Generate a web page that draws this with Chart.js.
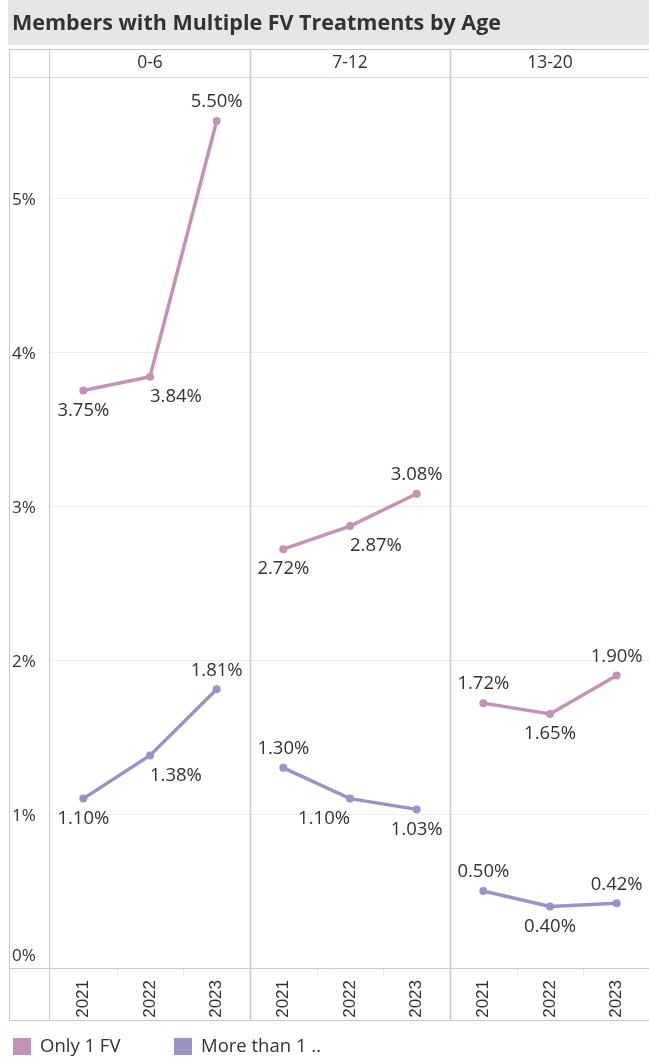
<!DOCTYPE html>
<html>
<head>
<meta charset="utf-8">
<script src="https://cdn.jsdelivr.net/npm/chart.js@4.4.0/dist/chart.umd.min.js"></script>
<style>
  html, body { margin: 0; padding: 0; background: #fff; overflow: hidden; }
  canvas { display: block; }
</style>
</head>
<body>
<canvas id="chart" width="654" height="1057"></canvas>
<script>
const chartTitle = 'Members with Multiple FV Treatments by Age';
const ageGroups = ['0-6', '7-12', '13-20'];
const years = ['2021', '2022', '2023'];
const yTicks = [0, 1, 2, 3, 4, 5];
// percent of members, three years per age group
const onlyOneFv = [3.75, 3.84, 5.50, 2.72, 2.87, 3.08, 1.72, 1.65, 1.90];
const moreThanOne = [1.10, 1.38, 1.81, 1.30, 1.10, 1.03, 0.50, 0.40, 0.42];
// which side of the point each value label goes
const onlyOneSide = ['below', 'below', 'above', 'below', 'below', 'above', 'above', 'below', 'above'];
const moreThanSide = ['below', 'below', 'above', 'above', 'below', 'below', 'above', 'below', 'above'];
// horizontal placement of each value label
const onlyOneAlign = ['center', 'right', 'center', 'center', 'right', 'center', 'center', 'center', 'center'];
const moreThanAlign = ['center', 'right', 'center', 'center', 'left', 'center', 'center', 'center', 'center'];

const PINK = '#c293b5';
const PURPLE = '#9b92c5';
const TEXT = '#333333';
const FRAME = '#c9c9c9';

const labels = [];
ageGroups.forEach(() => years.forEach((y) => labels.push(y)));

// break the line between age groups
const panelSegment = {
  borderColor: (ctx) => (ctx.p0DataIndex % 3 === 2 ? 'rgba(0,0,0,0)' : undefined),
};

const framePlugin = {
  id: 'frame',
  beforeDraw(chart) {
    const { ctx, width, height } = chart;
    ctx.save();
    ctx.fillStyle = '#fff';
    ctx.fillRect(0, 0, width, height);
    // title bar
    ctx.fillStyle = '#e6e6e6';
    ctx.fillRect(8, 0, width - 8, 45);
    ctx.fillStyle = TEXT;
    ctx.font = '700 21.5px "Open Sans"';
    ctx.textBaseline = 'alphabetic';
    ctx.fillText(chartTitle, 12, 30);
    ctx.restore();
  },
  afterDraw(chart) {
    const { ctx, chartArea: area, width } = chart;
    const x = chart.scales.x;
    const y = chart.scales.y;
    const step = (area.right - area.left) / labels.length;
    const top = 49.5, headerBottom = 77.5, plotBottom = Math.round(area.bottom) + 0.5, bottom = 1020.5;
    ctx.save();

    // small boundary stubs in the year band
    ctx.strokeStyle = '#e8e8e8';
    ctx.lineWidth = 1;
    for (let i = 1; i < labels.length; i++) {
      if (i % 3 === 0) continue;
      const bx = Math.round(area.left + i * step) + 0.5;
      ctx.beginPath(); ctx.moveTo(bx, plotBottom); ctx.lineTo(bx, plotBottom + 7); ctx.stroke();
    }

    // horizontal frame lines
    ctx.strokeStyle = FRAME;
    [top, plotBottom, bottom].forEach((ly) => {
      ctx.beginPath(); ctx.moveTo(9, ly); ctx.lineTo(width, ly); ctx.stroke();
    });
    ctx.strokeStyle = '#dadada';
    ctx.beginPath(); ctx.moveTo(9, headerBottom); ctx.lineTo(width, headerBottom); ctx.stroke();

    // vertical frame lines
    ctx.strokeStyle = FRAME;
    [9.5, Math.round(area.left) - 0.5].forEach((vx) => {
      ctx.beginPath(); ctx.moveTo(vx, top); ctx.lineTo(vx, bottom); ctx.stroke();
    });
    ctx.lineWidth = 1.6;
    ctx.strokeStyle = '#cdcdcd';
    for (let p = 1; p < ageGroups.length; p++) {
      const vx = Math.round(area.left + p * 3 * step) + 0.5;
      ctx.beginPath(); ctx.moveTo(vx, top); ctx.lineTo(vx, bottom); ctx.stroke();
    }

    // age group headers
    ctx.fillStyle = TEXT;
    ctx.font = '17.5px "Open Sans"';
    ctx.textAlign = 'center';
    ctx.textBaseline = 'middle';
    ageGroups.forEach((g, p) => {
      const cx = (x.getPixelForValue(p * 3) + x.getPixelForValue(p * 3 + 2)) / 2;
      ctx.fillText(g, cx, 63);
    });

    // y axis labels
    ctx.font = '17px "Open Sans"';
    ctx.textAlign = 'left';
    yTicks.forEach((v) => {
      let ty = y.getPixelForValue(v) + 2;
      if (v === 0) ty -= 14;
      ctx.fillText(v + '%', 12, ty);
    });

    // value labels
    ctx.font = '18.5px "Open Sans"';
    ctx.textAlign = 'center';
    const sides = [onlyOneSide, moreThanSide];
    const aligns = [onlyOneAlign, moreThanAlign];
    chart.data.datasets.forEach((ds, d) => {
      const meta = chart.getDatasetMeta(d);
      meta.data.forEach((pt, i) => {
        const text = ds.data[i].toFixed(2) + '%';
        const w = ctx.measureText(text).width;
        const p = Math.floor(i / 3);
        const left = area.left + p * 3 * step + 1;
        const right = Math.min(area.left + (p + 1) * 3 * step, 649) - 1;
        let cx = pt.x;
        if (aligns[d][i] === 'right') cx = pt.x + w / 2;
        if (aligns[d][i] === 'left') cx = pt.x - w / 2;
        const lx = Math.max(left + w / 2, Math.min(right - w / 2, cx));
        const ly = pt.y + (sides[d][i] === 'above' ? -19 : 20);
        ctx.fillText(text, lx, ly);
      });
    });

    // legend
    ctx.font = '18.5px "Open Sans"';
    ctx.textAlign = 'left';
    const legendX = [13, 174];
    chart.data.datasets.forEach((ds, d) => {
      ctx.fillStyle = ds.borderColor;
      ctx.fillRect(legendX[d], 1038, 18, 17);
      ctx.fillStyle = TEXT;
      ctx.fillText(ds.label, legendX[d] + 27, 1047);
    });
    ctx.restore();
  },
};

new Chart(document.getElementById('chart'), {
  type: 'line',
  data: {
    labels: labels,
    datasets: [
      {
        label: 'Only 1 FV',
        data: onlyOneFv,
        borderColor: PINK,
        backgroundColor: PINK,
        pointBackgroundColor: PINK,
        borderWidth: 3.5,
        pointRadius: 4,
        pointBorderWidth: 0,
        segment: panelSegment,
      },
      {
        label: 'More than 1 ..',
        data: moreThanOne,
        borderColor: PURPLE,
        backgroundColor: PURPLE,
        pointBackgroundColor: PURPLE,
        borderWidth: 3.5,
        pointRadius: 4,
        pointBorderWidth: 0,
        segment: panelSegment,
      },
    ],
  },
  options: {
    responsive: false,
    animation: false,
    devicePixelRatio: 1,
    layout: { padding: { left: 10, top: 77, right: 0, bottom: 37 } },
    plugins: { legend: { display: false }, tooltip: { enabled: false } },
    scales: {
      x: {
        type: 'category',
        offset: true,
        grid: { display: false },
        border: { display: false },
        ticks: {
          minRotation: 90,
          maxRotation: 90,
          autoSkip: false,
          padding: 4,
          color: TEXT,
          font: { family: 'Liberation Sans', size: 17 },
        },
        afterFit: (s) => { s.height = 52; },
      },
      y: {
        min: 0,
        max: 5.786,
        grid: { color: '#eeeeee', drawTicks: false },
        border: { display: false },
        ticks: { display: false, stepSize: 1, includeBounds: false },
        afterFit: (s) => { s.width = 40; },
      },
    },
  },
  plugins: [framePlugin],
});
</script>
</body>
</html>
